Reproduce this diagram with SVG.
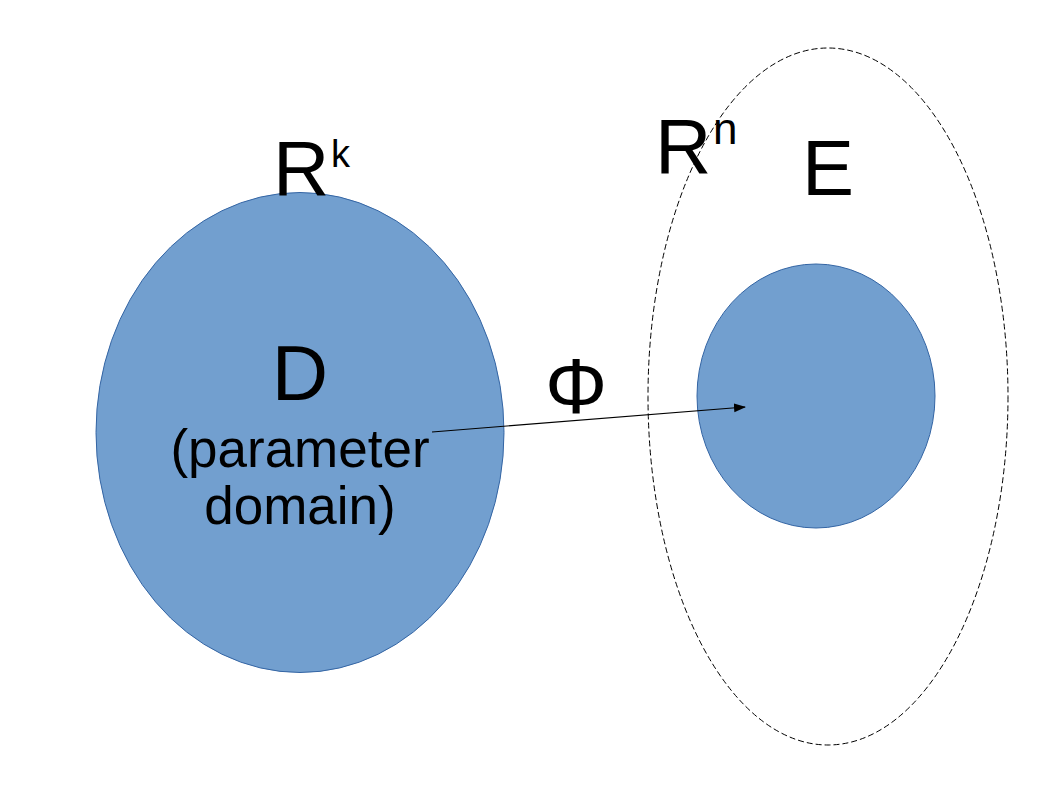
<svg xmlns="http://www.w3.org/2000/svg" width="1058" height="794" viewBox="0 0 1058 794">
  <defs>
    <style>
      .blob { fill: #729fcf; stroke: #3465a4; stroke-width: 1; }
      .space { fill: none; stroke: #000; stroke-width: 1; stroke-dasharray: 6 3; }
      .big { font-family: "Liberation Sans", Arial, sans-serif; font-size: 78px; fill: #000; }
      .sub { font-family: "Liberation Sans", Arial, sans-serif; font-size: 53px; fill: #000; }
      .conn { fill: none; stroke: #000; stroke-width: 1.2; }
    </style>
    <marker id="arrow" markerWidth="12" markerHeight="10" refX="11" refY="5" orient="auto" markerUnits="userSpaceOnUse">
      <path d="M0,0.5 L12,5 L0,9.5 Z" fill="#000"/>
    </marker>
  </defs>
  <rect width="1058" height="794" fill="#ffffff"/>

  <g id="space-Rn">
    <ellipse class="space" cx="828" cy="396.5" rx="180" ry="348.5"/>
    <text class="big" x="655" y="173">R<tspan font-size="44" x="713" y="144">n</tspan></text>
  </g>

  <g id="node-D">
    <ellipse class="blob" cx="300" cy="432.5" rx="204" ry="240"/>
    <text class="big" x="273" y="195">R<tspan font-size="38" x="331" y="167">k</tspan></text>
    <text class="big" x="300" y="400" text-anchor="middle">D</text>
    <text class="sub" x="300" y="467" text-anchor="middle">(parameter</text>
    <text class="sub" x="300" y="524" text-anchor="middle">domain)</text>
  </g>

  <g id="node-E">
    <ellipse class="blob" cx="816" cy="396" rx="119" ry="132"/>
    <text class="big" x="802" y="195">E</text>
  </g>

  <g id="connectors">
    <line class="conn" x1="432" y1="432" x2="745" y2="407" marker-end="url(#arrow)"/>
    <text class="big" x="576" y="413" text-anchor="middle">Φ</text>
  </g>
</svg>
